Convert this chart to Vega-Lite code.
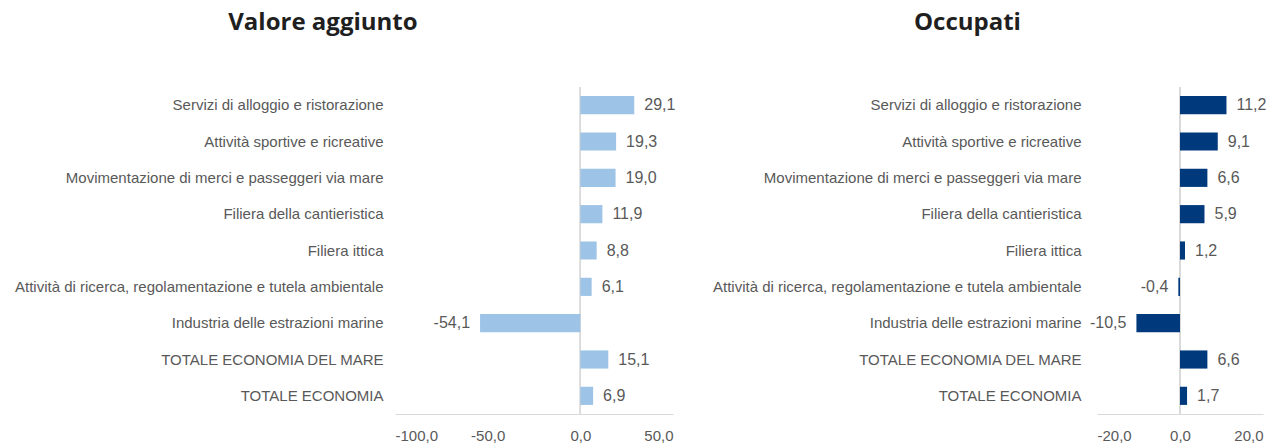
{
  "$schema": "https://vega.github.io/schema/vega-lite/v6.json",
  "padding": {"left": 14, "top": 10, "right": 5, "bottom": 5},
  "config": {
    "locale": {"number": {"decimal": ",", "thousands": ".", "grouping": [3], "currency": ["€", ""], "minus": "-"}},
    "view": {"stroke": null},
    "concat": {"spacing": 36},
    "axis": {"labelFont": "Liberation Sans", "labelColor": "#595959", "labelFontSize": 15, "grid": false, "ticks": false, "title": null},
    "title": {"font": "Open Sans", "fontSize": 24, "fontWeight": "bold", "color": "#1f1f1f", "anchor": "middle", "frame": "bounds", "offset": 52, "dx": -22}
  },
  "data": {"values": [
    {"category": "Servizi di alloggio e ristorazione", "va": 29.1, "occ": 11.2},
    {"category": "Attività sportive e ricreative", "va": 19.3, "occ": 9.1},
    {"category": "Movimentazione di merci e passeggeri via mare", "va": 19.0, "occ": 6.6},
    {"category": "Filiera della cantieristica", "va": 11.9, "occ": 5.9},
    {"category": "Filiera ittica", "va": 8.8, "occ": 1.2},
    {"category": "Attività di ricerca, regolamentazione e tutela ambientale", "va": 6.1, "occ": -0.4},
    {"category": "Industria delle estrazioni marine", "va": -54.1, "occ": -10.5},
    {"category": "TOTALE ECONOMIA DEL MARE", "va": 15.1, "occ": 6.6},
    {"category": "TOTALE ECONOMIA", "va": 6.9, "occ": 1.7}
  ]},
  "hconcat": [
    {
      "title": {"text": "Valore aggiunto"},
      "width": 278,
      "height": 327,
      "encoding": {
        "y": {"field": "category", "type": "nominal", "sort": null,
              "scale": {"paddingInner": 0.5, "paddingOuter": 0.25},
              "axis": {"domain": false, "labelPadding": 12, "labelLimit": 600}}
      },
      "layer": [
        {"mark": {"type": "rule", "color": "#D9D9D9", "strokeWidth": 1},
         "encoding": {"x": {"datum": 0, "type": "quantitative"}, "y": null}},
        {"mark": {"type": "bar", "color": "#9DC3E6"},
         "encoding": {"x": {"field": "va", "type": "quantitative",
            "scale": {"domain": [-100, 50], "nice": false},
            "axis": {"values": [-100, -50, 0, 50], "format": ".1f", "domainColor": "#D9D9D9", "labelPadding": 14}}}},
        {"transform": [{"filter": "datum.va >= 0"}],
         "mark": {"type": "text", "align": "left", "dx": 10, "font": "Liberation Sans", "fontSize": 16, "color": "#595959"},
         "encoding": {"x": {"field": "va", "type": "quantitative"}, "text": {"field": "va", "type": "quantitative", "format": ".1f"}}},
        {"transform": [{"filter": "datum.va < 0"}],
         "mark": {"type": "text", "align": "right", "dx": -10, "font": "Liberation Sans", "fontSize": 16, "color": "#595959"},
         "encoding": {"x": {"field": "va", "type": "quantitative"}, "text": {"field": "va", "type": "quantitative", "format": ".1f"}}}
      ]
    },
    {
      "title": {"text": "Occupati"},
      "width": 166,
      "height": 327,
      "encoding": {
        "y": {"field": "category", "type": "nominal", "sort": null,
              "scale": {"paddingInner": 0.5, "paddingOuter": 0.25},
              "axis": {"domain": false, "labelPadding": 16, "labelLimit": 600}}
      },
      "layer": [
        {"mark": {"type": "rule", "color": "#D9D9D9", "strokeWidth": 1},
         "encoding": {"x": {"datum": 0, "type": "quantitative"}, "y": null}},
        {"mark": {"type": "bar", "color": "#003A7D"},
         "encoding": {"x": {"field": "occ", "type": "quantitative",
            "scale": {"domain": [-20, 20], "nice": false},
            "axis": {"values": [-20, 0, 20], "format": ".1f", "domainColor": "#D9D9D9", "labelPadding": 14}}}},
        {"transform": [{"filter": "datum.occ >= 0"}],
         "mark": {"type": "text", "align": "left", "dx": 10, "font": "Liberation Sans", "fontSize": 16, "color": "#595959"},
         "encoding": {"x": {"field": "occ", "type": "quantitative"}, "text": {"field": "occ", "type": "quantitative", "format": ".1f"}}},
        {"transform": [{"filter": "datum.occ < 0"}],
         "mark": {"type": "text", "align": "right", "dx": -10, "font": "Liberation Sans", "fontSize": 16, "color": "#595959"},
         "encoding": {"x": {"field": "occ", "type": "quantitative"}, "text": {"field": "occ", "type": "quantitative", "format": ".1f"}}}
      ]
    }
  ]
}
